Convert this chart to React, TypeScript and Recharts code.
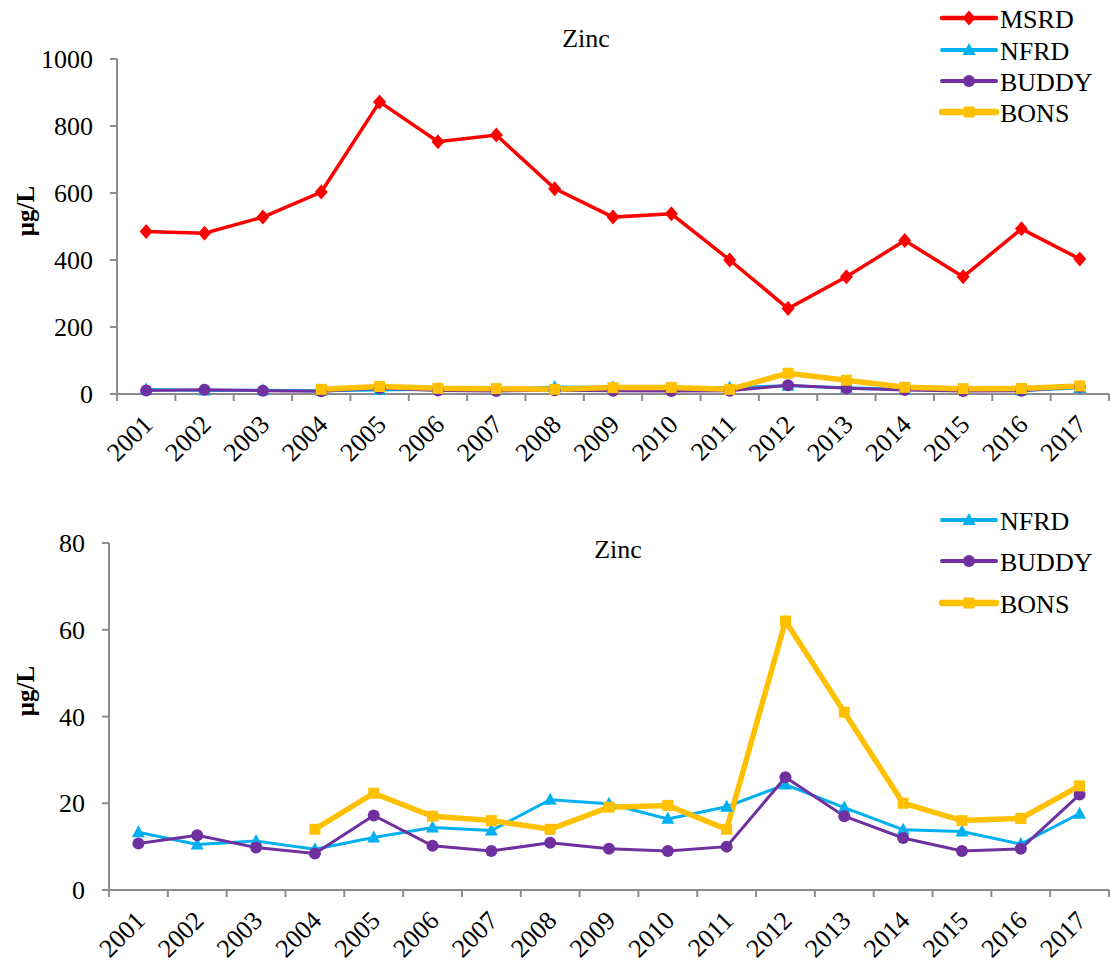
import React from 'react';
import { LineChart, Line, XAxis, YAxis } from 'recharts';

const years = ['2001', '2002', '2003', '2004', '2005', '2006', '2007', '2008', '2009',
  '2010', '2011', '2012', '2013', '2014', '2015', '2016', '2017'];

const msrd = [485, 480, 528, 603, 872, 753, 773, 613, 528, 538, 400, 255, 350, 458, 350, 493, 403];
const nfrd = [13.3, 10.5, 11.3, 9.4, 12.1, 14.4, 13.7, 20.8, 19.9, 16.4, 19.2, 24.3, 19.0, 13.9, 13.5, 10.6, 17.6];
const buddy = [10.7, 12.6, 9.8, 8.4, 17.2, 10.2, 9.0, 10.9, 9.5, 9.0, 10.0, 26.0, 17.0, 12.0, 9.0, 9.5, 22.0];
const bons = [null, null, null, 14.0, 22.3, 17.0, 16.0, 14.0, 19.1, 19.5, 14.0, 62.0, 41.0, 20.0, 16.0, 16.5, 24.0];

const topTicks = [0, 200, 400, 600, 800, 1000];
const bottomTicks = [0, 20, 40, 60, 80];

const rows = years.map((year, i) => ({
  year,
  MSRD: msrd[i],
  NFRD: nfrd[i],
  BUDDY: buddy[i],
  BONS: bons[i],
}));

const FONT = "'Liberation Serif', 'Times New Roman', Tinos, 'DejaVu Serif', serif";
const AXIS = '#8c8c8c';

const COLORS: Record<string, string> = {
  MSRD: '#FF0000',
  NFRD: '#00B0F0',
  BUDDY: '#7030A0',
  BONS: '#FFC000',
};

const WIDTHS: Record<string, number> = { MSRD: 3.5, NFRD: 3, BUDDY: 3, BONS: 5.5 };

function Marker({ kind, cx, cy }: { kind: string; cx?: number; cy?: number }) {
  if (cx == null || cy == null) return <g />;
  const fill = COLORS[kind];
  if (kind === 'MSRD') {
    return <path d={`M${cx},${cy - 7.5} L${cx + 6.5},${cy} L${cx},${cy + 7.5} L${cx - 6.5},${cy} Z`} fill={fill} />;
  }
  if (kind === 'NFRD') {
    return <path d={`M${cx},${cy - 7} L${cx + 6.5},${cy + 5} L${cx - 6.5},${cy + 5} Z`} fill={fill} />;
  }
  if (kind === 'BUDDY') {
    return <circle cx={cx} cy={cy} r={6} fill={fill} />;
  }
  return <rect x={cx - 5.5} y={cy - 5.5} width={11} height={11} fill={fill} />;
}

function YearTick(props: any) {
  const { x, y, payload, index, band } = props;
  const half = band / 2;
  return (
    <g>
      <line x1={x - half} x2={x - half} y1={y} y2={y + 7} stroke={AXIS} strokeWidth={2} />
      {index === years.length - 1 && (
        <line x1={x + half} x2={x + half} y1={y} y2={y + 7} stroke={AXIS} strokeWidth={2} />
      )}
      <text
        transform={`translate(${x + 8},${y + 32}) rotate(-45)`}
        textAnchor="end"
        fontSize={26}
        style={{ fontFamily: FONT }}
        fill="#000"
      >
        {payload.value}
      </text>
    </g>
  );
}

function Legend({ keys, rowsY }: { keys: string[]; rowsY: number[] }) {
  return (
    <>
      {keys.map((k, i) => (
        <g key={k}>
          <line x1={942} x2={996} y1={rowsY[i]} y2={rowsY[i]} stroke={COLORS[k]} strokeWidth={WIDTHS[k] + 1} strokeLinecap="round" />
          <Marker kind={k} cx={969} cy={rowsY[i]} />
          <text x={1000} y={rowsY[i] + 10} fontSize={26} style={{ fontFamily: FONT }} fill="#000">{k}</text>
        </g>
      ))}
    </>
  );
}

type PanelProps = {
  keys: string[];
  top: number;
  height: number;
  marginTop: number;
  axisLeft: number;
  xAxisHeight: number;
  domain: [number, number];
  ticks: number[];
  titleX: number;
  titleY: number;
  labelY: number;
  legendRows: number[];
};

function Panel(p: PanelProps) {
  const width = 1110;
  const marginRight = 1;
  const band = (width - marginRight - p.axisLeft) / years.length;
  return (
    <div style={{ position: 'absolute', left: 0, top: p.top, width, height: p.height, fontFamily: FONT }}>
      <LineChart
        width={width}
        height={p.height}
        data={rows}
        margin={{ top: p.marginTop, right: marginRight, left: 0, bottom: 0 }}
        style={{ fontFamily: FONT }}
      >
        <XAxis
          dataKey="year"
          scale="band"
          interval={0}
          height={p.xAxisHeight}
          axisLine={{ stroke: AXIS, strokeWidth: 2 }}
          tickLine={false}
          tickSize={0}
          tickMargin={0}
          tick={(tp: any) => <YearTick {...tp} band={band} />}
        />
        <YAxis
          width={p.axisLeft}
          domain={p.domain}
          ticks={p.ticks}
          interval={0}
          axisLine={{ stroke: AXIS, strokeWidth: 2 }}
          tickLine={{ stroke: AXIS, strokeWidth: 2 }}
          tickSize={7}
          tickMargin={17}
          tick={{ fontSize: 26, fill: '#000', style: { fontFamily: FONT } }}
          label={{
            content: () => (
              <text
                transform={`translate(34,${p.labelY}) rotate(-90)`}
                textAnchor="middle"
                fontSize={25}
                fontWeight="bold"
                style={{ fontFamily: FONT }}
                fill="#000"
              >
                μg/L
              </text>
            ),
          }}
        />
        {p.keys.map((k) => (
          <Line
            key={k}
            type="linear"
            dataKey={k}
            stroke={COLORS[k]}
            strokeWidth={WIDTHS[k]}
            isAnimationActive={false}
            dot={(dp: any) => <Marker key={`${k}-${dp.index}`} kind={k} cx={dp.cx} cy={dp.cy} />}
            activeDot={false}
          />
        ))}
      </LineChart>
      <svg
        width={width}
        height={p.height}
        style={{ position: 'absolute', left: 0, top: 0, pointerEvents: 'none' }}
      >
        <text x={p.titleX} y={p.titleY} textAnchor="middle" fontSize={26} style={{ fontFamily: FONT }} fill="#000">Zinc</text>
        <Legend keys={p.keys} rowsY={p.legendRows} />
      </svg>
    </div>
  );
}

export default function App() {
  return (
    <div style={{ position: 'absolute', left: 0, top: 0, width: 1110, height: 967, background: '#fff' }}>
      <Panel
        keys={['MSRD', 'NFRD', 'BUDDY', 'BONS']}
        top={0}
        height={480}
        marginTop={59}
        axisLeft={117}
        xAxisHeight={86}
        domain={[0, 1000]}
        ticks={topTicks}
        titleX={586}
        titleY={47}
        labelY={211}
        legendRows={[18, 50, 81, 112]}
      />
      <Panel
        keys={['NFRD', 'BUDDY', 'BONS']}
        top={480}
        height={487}
        marginTop={63}
        axisLeft={109}
        xAxisHeight={77}
        domain={[0, 80]}
        ticks={bottomTicks}
        titleX={618}
        titleY={78}
        labelY={211}
        legendRows={[40, 81, 123]}
      />
    </div>
  );
}
